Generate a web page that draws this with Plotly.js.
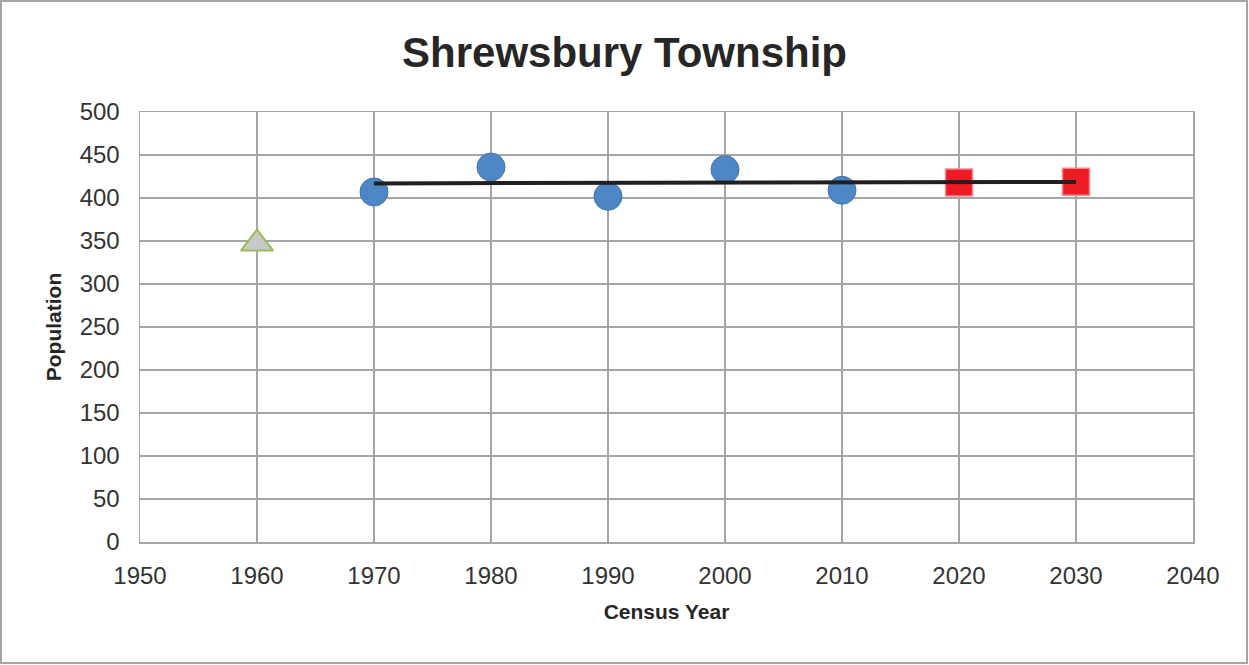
<!DOCTYPE html>
<html>
<head>
<meta charset="utf-8">
<script src="https://cdn.plot.ly/plotly-3.0.1.min.js"></script>
<style>
  html, body { margin: 0; padding: 0; background: #fff; }
  #wrap { position: relative; width: 1249px; height: 665px; }
  #chart { width: 1249px; height: 665px; }
  #frame { position: absolute; left: 0; top: 0; width: 1248px; height: 664px; box-sizing: border-box;
           border: 2px solid #a6a6a6; pointer-events: none; }
</style>
</head>
<body>
<div id="wrap"><div id="chart"></div><div id="frame"></div></div>
<script>
// Data
const pastYears = [1960];
const pastValues = [347];
const censusYears = [1970, 1980, 1990, 2000, 2010];
const censusValues = [407, 436, 402, 433, 409];
const projYears = [2020, 2030];
const projValues = [418, 419];
const trendYears = [1970, 2030];
const trendValues = [417, 418.6];
const xTicks = [1950, 1960, 1970, 1980, 1990, 2000, 2010, 2020, 2030, 2040];
const yTicks = [0, 50, 100, 150, 200, 250, 300, 350, 400, 450, 500];

const traces = [
  {
    x: pastYears, y: pastValues, type: 'scatter', mode: 'markers', name: 'Earlier',
    marker: { symbol: 'triangle-up', size: 28, color: '#c9c9c9', line: { color: '#9bbb59', width: 2 } }
  },
  {
    x: censusYears, y: censusValues, type: 'scatter', mode: 'markers', name: 'Census',
    marker: { symbol: 'circle', size: 28, color: '#4f86c6', line: { color: '#4374b0', width: 1 } }
  },
  {
    x: projYears, y: projValues, type: 'scatter', mode: 'markers', name: 'Projection',
    marker: { symbol: 'square', size: 27, color: '#ed1c24', line: { color: '#f08a8e', width: 1.5 } }
  },
  {
    x: trendYears, y: trendValues, type: 'scatter', mode: 'lines', name: 'Trend',
    line: { color: '#231f20', width: 4 }
  }
];

const tickFont = { family: '"Liberation Sans", Arial, sans-serif', size: 24, color: '#333333' };
const titleFamily = '"Liberation Sans", Arial, sans-serif';

const layout = {
  width: 1249, height: 665,
  paper_bgcolor: '#ffffff', plot_bgcolor: '#ffffff',
  showlegend: false,
  margin: { l: 140, r: 56, t: 112, b: 123 },
  title: {
    text: 'Shrewsbury Township',
    font: { family: titleFamily, size: 42, color: '#262626', weight: 'bold' },
    x: 0.5, xanchor: 'center', y: 0.922, yanchor: 'middle', yref: 'container'
  },
  xaxis: {
    range: [1950, 2040], tickvals: xTicks, ticktext: xTicks.map(String),
    showgrid: true, gridcolor: '#a6a6a6', gridwidth: 1.5,
    showline: true, linecolor: '#a6a6a6', linewidth: 1.5, mirror: true,
    zeroline: false, ticks: '', ticklabelstandoff: 12,
    tickfont: tickFont,
    title: { text: 'Census Year', font: { family: titleFamily, size: 21, color: '#262626', weight: 'bold' }, standoff: 16 }
  },
  yaxis: {
    range: [0, 500], tickvals: yTicks, ticktext: yTicks.map(String),
    showgrid: true, gridcolor: '#a6a6a6', gridwidth: 1.5,
    showline: true, linecolor: '#a6a6a6', linewidth: 1.5, mirror: true,
    zeroline: false, ticks: '', ticklabelstandoff: 14,
    tickfont: tickFont,
    title: { text: 'Population', font: { family: titleFamily, size: 21, color: '#262626', weight: 'bold' }, standoff: 12 }
  }
};

Plotly.newPlot('chart', traces, layout, { displayModeBar: false, staticPlot: true });
</script>
</body>
</html>
